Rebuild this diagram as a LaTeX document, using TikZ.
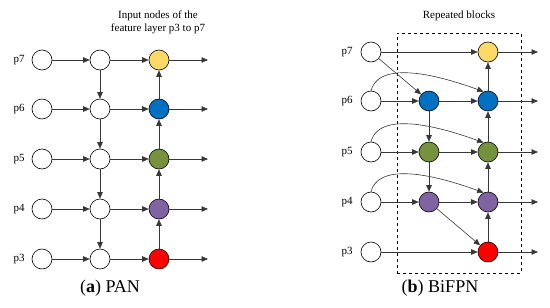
\documentclass[tikz,border=0pt]{standalone}
\usepackage{fontspec}
\setmainfont{Liberation Serif}
\usetikzlibrary{positioning,arrows.meta}
\definecolor{NodeYellow}{RGB}{255,217,102}
\definecolor{NodeBlue}{RGB}{0,112,192}
\definecolor{NodeGreen}{RGB}{118,146,60}
\definecolor{NodePurple}{RGB}{128,100,162}
\definecolor{NodeRed}{RGB}{255,0,0}
\definecolor{EdgeGray}{RGB}{55,55,55}

\begin{document}
\begin{tikzpicture}[x=1pt, y=-1pt, font=\fontsize{11}{13}\selectfont, every node/.style={align=center}]
\tikzset{
  feat/.style={draw, circle, fill=white, minimum size=20pt, inner sep=0pt, line width=0.6pt},
  arr/.style={-{Triangle[length=6.5pt,width=5.5pt]}, line width=0.6pt, EdgeGray},
  capt/.style={font=\fontsize{18}{20}\selectfont},
  blockbox/.style={draw, dashed, line width=0.5pt, minimum width=124pt, minimum height=240pt, inner sep=0pt}
}
\useasboundingbox (0,0) rectangle (550,308);

  % (a) PAN
  \node (ahead) at (158,22) {Input nodes of the\\feature layer p3 to p7};
  \node (ap7) at (19,60) {p7};
  \node (ap6) at (19,109) {p6};
  \node (ap5) at (19,159) {p5};
  \node (ap4) at (19,209) {p4};
  \node (ap3) at (19,259) {p3};

  \node[feat] (a7in) at (42,60) {};
  \node[feat] (a6in) at (42,109) {};
  \node[feat] (a5in) at (42,159) {};
  \node[feat] (a4in) at (42,209) {};
  \node[feat] (a3in) at (42,259) {};
  \node[feat] (a7mid) at (100,60) {};
  \node[feat] (a6mid) at (100,109) {};
  \node[feat] (a5mid) at (100,159) {};
  \node[feat] (a4mid) at (100,209) {};
  \node[feat] (a3mid) at (100,259) {};
  \node[feat, fill=NodeYellow] (a7out) at (159,60) {};
  \node[feat, fill=NodeBlue] (a6out) at (159,109) {};
  \node[feat, fill=NodeGreen] (a5out) at (159,159) {};
  \node[feat, fill=NodePurple] (a4out) at (159,209) {};
  \node[feat, fill=NodeRed] (a3out) at (159,259) {};
  \coordinate (a7end) at (208,60);
  \coordinate (a6end) at (208,109);
  \coordinate (a5end) at (208,159);
  \coordinate (a4end) at (208,209);
  \coordinate (a3end) at (208,259);

  \draw[arr] (a7in) -- (a7mid); \draw[arr] (a7mid) -- (a7out); \draw[arr] (a7out) -- (a7end);
  \draw[arr] (a6in) -- (a6mid); \draw[arr] (a6mid) -- (a6out); \draw[arr] (a6out) -- (a6end);
  \draw[arr] (a5in) -- (a5mid); \draw[arr] (a5mid) -- (a5out); \draw[arr] (a5out) -- (a5end);
  \draw[arr] (a4in) -- (a4mid); \draw[arr] (a4mid) -- (a4out); \draw[arr] (a4out) -- (a4end);
  \draw[arr] (a3in) -- (a3mid); \draw[arr] (a3mid) -- (a3out); \draw[arr] (a3out) -- (a3end);
  % top-down path
  \draw[arr] (a7mid) -- (a6mid); \draw[arr] (a6mid) -- (a5mid);
  \draw[arr] (a5mid) -- (a4mid); \draw[arr] (a4mid) -- (a3mid);
  % bottom-up path
  \draw[arr] (a3out) -- (a4out); \draw[arr] (a4out) -- (a5out);
  \draw[arr] (a5out) -- (a6out); \draw[arr] (a6out) -- (a7out);

  \node[capt] (acap) at (110,288) {(\textbf{a}) PAN};

  % (b) BiFPN
  \node (bhead) at (459,16) {Repeated blocks};
  \node[blockbox] (blocks) at (459,153) {};
  \node (bp7) at (347,52) {p7};
  \node (bp6) at (347,101) {p6};
  \node (bp5) at (347,152) {p5};
  \node (bp4) at (347,202) {p4};
  \node (bp3) at (347,252) {p3};

  \node[feat] (b7in) at (371,52) {};
  \node[feat] (b6in) at (371,101) {};
  \node[feat] (b5in) at (371,152) {};
  \node[feat] (b4in) at (371,202) {};
  \node[feat] (b3in) at (371,252) {};
  \node[feat, fill=NodeBlue] (b6mid) at (429,101) {};
  \node[feat, fill=NodeGreen] (b5mid) at (429,152) {};
  \node[feat, fill=NodePurple] (b4mid) at (429,202) {};
  \node[feat, fill=NodeYellow] (b7out) at (488,52) {};
  \node[feat, fill=NodeBlue] (b6out) at (488,101) {};
  \node[feat, fill=NodeGreen] (b5out) at (488,152) {};
  \node[feat, fill=NodePurple] (b4out) at (488,202) {};
  \node[feat, fill=NodeRed] (b3out) at (488,252) {};
  \coordinate (b7end) at (538,52);
  \coordinate (b6end) at (538,101);
  \coordinate (b5end) at (538,152);
  \coordinate (b4end) at (538,202);
  \coordinate (b3end) at (538,252);

  \draw[arr] (b7in) -- (b7out); \draw[arr] (b7out) -- (b7end);
  \draw[arr] (b6in) -- (b6mid); \draw[arr] (b6mid) -- (b6out); \draw[arr] (b6out) -- (b6end);
  \draw[arr] (b5in) -- (b5mid); \draw[arr] (b5mid) -- (b5out); \draw[arr] (b5out) -- (b5end);
  \draw[arr] (b4in) -- (b4mid); \draw[arr] (b4mid) -- (b4out); \draw[arr] (b4out) -- (b4end);
  \draw[arr] (b3in) -- (b3out); \draw[arr] (b3out) -- (b3end);
  \draw[arr] (b7in) -- (b6mid);
  \draw[arr] (b4mid) -- (b3out);
  \draw[arr] (b6mid) -- (b5mid); \draw[arr] (b5mid) -- (b4mid);
  \draw[arr] (b3out) -- (b4out); \draw[arr] (b4out) -- (b5out);
  \draw[arr] (b5out) -- (b6out); \draw[arr] (b6out) -- (b7out);
  % skip connections
  \draw[arr] (b6in.north) to[out=75, in=160, looseness=0.8] (b6out.115);
  \draw[arr] (b5in.north) to[out=75, in=160, looseness=0.8] (b5out.115);
  \draw[arr] (b4in.north) to[out=75, in=160, looseness=0.8] (b4out.115);

  \node[capt] (bcap) at (440,288) {(\textbf{b}) BiFPN};
\end{tikzpicture}
\end{document}
